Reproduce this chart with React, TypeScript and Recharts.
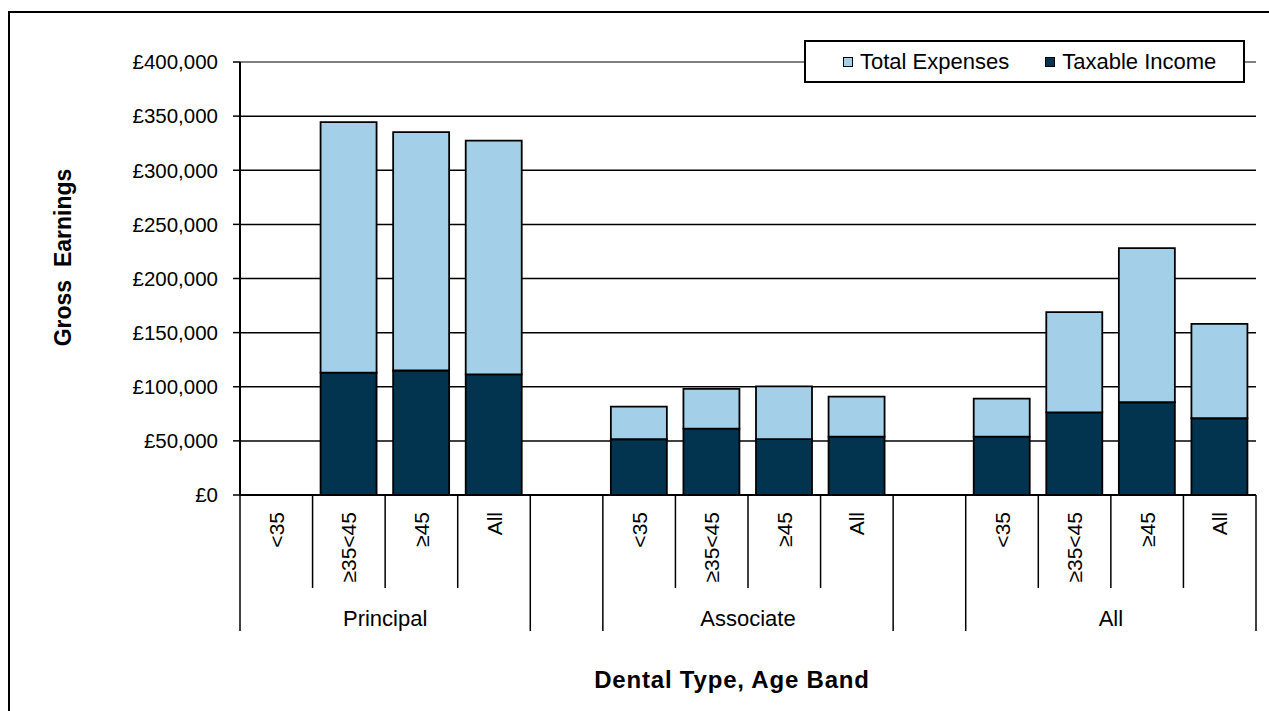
import React from 'react';
import { BarChart, Bar, XAxis, YAxis, CartesianGrid, Legend, ReferenceLine } from 'recharts';

// ---------- data ----------
const groups = ['Principal', '', 'Associate', '', 'All'];
const groupBands = [
  ['<35', '≥35<45', '≥45', 'All'],
  [''],
  ['<35', '≥35<45', '≥45', 'All'],
  [''],
  ['<35', '≥35<45', '≥45', 'All'],
];
const taxableIncome = [null, 113000, 115000, 111500, null, 51500, 61300, 51700, 53900, null, 53900, 76400, 85700, 70900];
const totalExpenses = [null, 231500, 220200, 215900, null, 30100, 36700, 48700, 37000, null, 35100, 92500, 142300, 87100];
const yTicks = [0, 50000, 100000, 150000, 200000, 250000, 300000, 350000, 400000];
const legendOrder = ['Total Expenses', 'Taxable Income'];

// ---------- styles ----------
const FONT = "'Liberation Sans', Arial, Helvetica, sans-serif";
const DARK = '#02344F';
const LIGHT = '#A3D0E8';
const CHART_W = 1269;
const CHART_H = 711;
const MARGIN = { top: 62, right: 13, bottom: 0, left: 0 };
const Y_W = 240;
const X_H = 216;

type Row = {
  id: string;
  band: string;
  group: string;
  first: boolean;
  groupSize: number;
  taxable: number | null;
  expenses: number | null;
};

const rows: Row[] = [];
{
  let k = 0;
  groups.forEach((g, gi) => {
    groupBands[gi].forEach((b, bi) => {
      rows.push({
        id: `${gi}-${bi}`,
        band: b,
        group: g,
        first: bi === 0,
        groupSize: groupBands[gi].length,
        taxable: taxableIncome[k],
        expenses: totalExpenses[k],
      });
      k++;
    });
  });
}

const BAND = (CHART_W - MARGIN.left - Y_W - MARGIN.right) / rows.length;

const CategoryTick = (props: any) => {
  const { x, y, payload } = props;
  const i = rows.findIndex((r) => r.id === payload.value);
  const row = rows[i];
  if (!row) return null;
  const left = x - BAND / 2;
  const els: React.ReactNode[] = [];
  els.push(
    <line key="l" x1={left} x2={left} y1={y} y2={y + (row.first ? 136 : 93)} stroke="#000" strokeWidth={1.5} />
  );
  if (i === rows.length - 1) {
    els.push(<line key="r" x1={x + BAND / 2} x2={x + BAND / 2} y1={y} y2={y + 136} stroke="#000" strokeWidth={1.5} />);
  }
  if (row.band) {
    els.push(
      <text
        key="t"
        x={x}
        y={y + 17}
        transform={`rotate(-90, ${x}, ${y + 17})`}
        textAnchor="end"
        dominantBaseline="central"
        fontSize={21}
        fontFamily={FONT}
        fill="#000"
      >
        {row.band}
      </text>
    );
  }
  if (row.first && row.group) {
    els.push(
      <text key="g" x={left + (row.groupSize * BAND) / 2} y={y + 131} textAnchor="middle" fontSize={22} fontFamily={FONT} fill="#000">
        {row.group}
      </text>
    );
  }
  return <g>{els}</g>;
};

const LegendBox = (props: any) => {
  const payload = [...(props.payload || [])].sort(
    (a: any, b: any) => legendOrder.indexOf(a.value) - legendOrder.indexOf(b.value)
  );
  return (
    <div
      style={{
        width: 441,
        height: 43,
        boxSizing: 'border-box',
        border: '2px solid #000',
        background: '#fff',
        display: 'flex',
        alignItems: 'center',
        paddingLeft: 37,
        fontFamily: FONT,
        fontSize: 22,
        color: '#000',
      }}
    >
      {payload.map((p: any, idx: number) => (
        <div key={p.value} style={{ display: 'flex', alignItems: 'center', marginRight: idx === 0 ? 36 : 0 }}>
          <span
            style={{
              display: 'inline-block',
              width: 10,
              height: 10,
              boxSizing: 'border-box',
              border: '1.5px solid #000',
              background: p.color,
              marginRight: 7,
            }}
          />
          <span>{p.value}</span>
        </div>
      ))}
    </div>
  );
};

const fmt = (v: number) => '£' + v.toLocaleString('en-GB');

export default function App() {
  return (
    <div style={{ position: 'absolute', left: 0, top: 0, width: CHART_W, height: CHART_H, overflow: 'hidden', background: '#fff' }}>
      <div
        style={{
          position: 'absolute',
          left: 8,
          top: 11,
          width: 1400,
          height: 800,
          border: '2px solid #000',
          boxSizing: 'border-box',
        }}
      />
      <div style={{ position: 'absolute', left: 0, top: 0 }}>
        <BarChart width={CHART_W} height={CHART_H} data={rows} margin={MARGIN} barSize={56}>
          <CartesianGrid horizontal vertical={false} stroke="#000" strokeWidth={1.5} />
          <XAxis
            dataKey="id"
            interval={0}
            height={X_H}
            tickLine={false}
            tickSize={0}
            tickMargin={0}
            axisLine={{ stroke: '#000', strokeWidth: 2 }}
            tick={<CategoryTick />}
            label={(p: any) => {
              const vb = p.viewBox;
              return (
                <text
                  x={vb.x + vb.width / 2 - 16}
                  y={vb.y + vb.height - 23}
                  textAnchor="middle"
                  fontSize={24}
                  fontWeight="bold"
                  fontFamily={FONT}
                  letterSpacing={0.8}
                  fill="#000"
                >
                  Dental Type, Age Band
                </text>
              );
            }}
          />
          <YAxis
            width={Y_W}
            domain={[0, 400000]}
            ticks={yTicks}
            interval={0}
            tickFormatter={fmt}
            tickSize={7}
            tickMargin={15}
            tickLine={{ stroke: '#000', strokeWidth: 1.5 }}
            axisLine={{ stroke: '#000', strokeWidth: 2 }}
            tick={{ fill: '#000', fontSize: 20.5, fontFamily: FONT }}
            label={(p: any) => {
              const vb = p.viewBox;
              const cx = vb.x + 63;
              const cy = vb.y + vb.height / 2 - 21;
              return (
                <text
                  x={cx}
                  y={cy}
                  transform={`rotate(-90, ${cx}, ${cy})`}
                  textAnchor="middle"
                  dominantBaseline="central"
                  fontSize={23}
                  fontWeight="bold"
                  fontFamily={FONT}
                  fill="#000"
                  style={{ whiteSpace: 'pre' }}
                >
                  {'Gross  Earnings'}
                </text>
              );
            }}
          />
          <YAxis
            yAxisId="right"
            orientation="right"
            width={0}
            domain={[0, 400000]}
            tick={false}
            tickLine={false}
            axisLine={{ stroke: '#808080', strokeWidth: 2 }}
          />
          <ReferenceLine y={400000} stroke="#808080" strokeWidth={2} />
          <Legend
            layout="vertical"
            align="center"
            verticalAlign="middle"
            wrapperStyle={{ top: 40, left: 804, width: 441, height: 43 }}
            content={<LegendBox />}
          />
          <Bar
            dataKey="taxable"
            name="Taxable Income"
            stackId="a"
            fill={DARK}
            stroke="#000"
            strokeWidth={1.8}
            isAnimationActive={false}
          />
          <Bar
            dataKey="expenses"
            name="Total Expenses"
            stackId="a"
            fill={LIGHT}
            stroke="#000"
            strokeWidth={1.8}
            isAnimationActive={false}
          />
        </BarChart>
      </div>
    </div>
  );
}
